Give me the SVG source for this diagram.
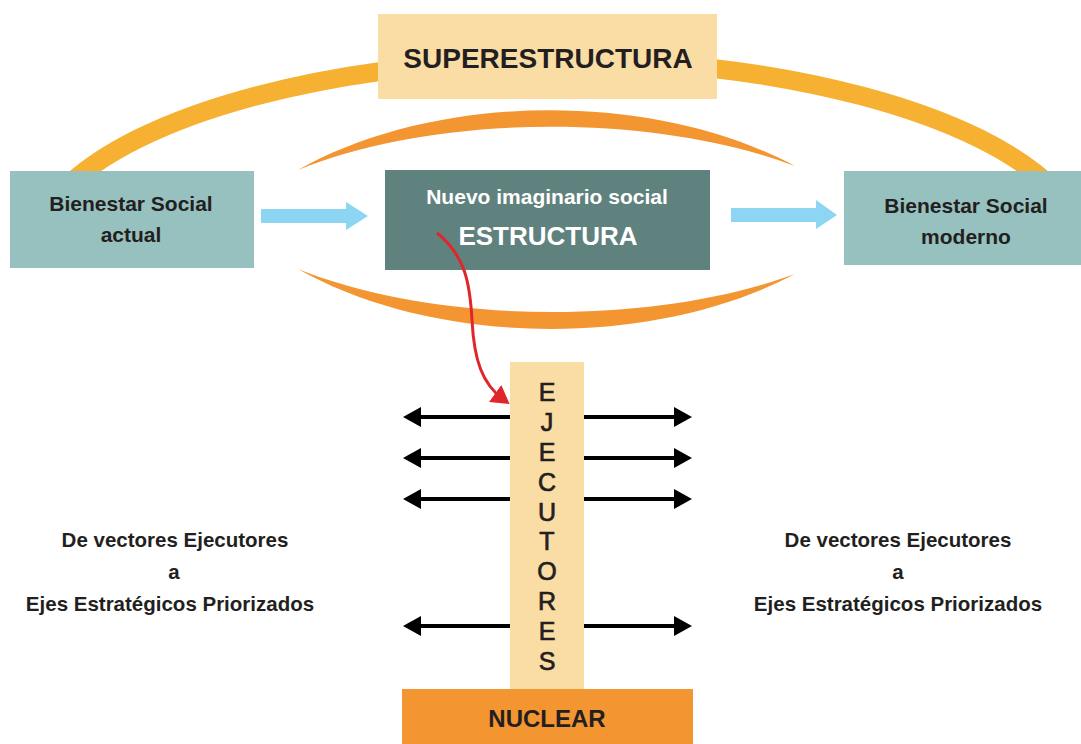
<svg xmlns="http://www.w3.org/2000/svg" width="1081" height="744" viewBox="0 0 1081 744">
  <style>
    .t { font-family: "Liberation Sans", Arial, sans-serif; font-weight: bold; fill: #231F20; text-anchor: middle; }
    .w { fill: #FFFFFF; }
    .col { font-family: "Liberation Sans", Arial, sans-serif; font-weight: normal; font-size: 25px; fill: #231F20; stroke: #231F20; stroke-width: 0.7px; text-anchor: middle; }
    .teal { fill: #96C1BF; }
    .sand { fill: #FADCA5; }
    .orange { fill: #F39530; }
    .blue { fill: #8CD5F3; }
    .blk { stroke: #000000; stroke-width: 4; fill: none; marker-end: url(#headBlk); }
  </style>
  <defs>
    <marker id="headBlk" markerUnits="userSpaceOnUse" markerWidth="18" markerHeight="20" viewBox="0 0 18 20" refX="11" refY="10" orient="auto">
      <path d="M0,0 L18,10 L0,20 Z" fill="#000000"/>
    </marker>
    <marker id="headRed" markerUnits="userSpaceOnUse" markerWidth="18" markerHeight="21" viewBox="0 0 18 21" refX="11" refY="10.5" orient="auto">
      <path d="M0,0 L18,10.5 L0,21 Z" fill="#E0262B"/>
    </marker>
  </defs>

  <rect width="1081" height="744" fill="#FFFFFF"/>

  <!-- big yellow arc -->
  <g id="arc-super">
    <path d="M 63.4 190 A 529 200 0 0 1 1054.6 190" fill="none" stroke="#F6B133" stroke-width="19"/>
  </g>

  <!-- orange crescents -->
  <g id="crescent-top">
    <path class="orange" d="M 298 170 C 438 91, 655 91, 795 166 C 655 113, 438 113, 298 170 Z"/>
  </g>
  <g id="crescent-bottom">
    <path class="orange" d="M 298 269 C 438 348, 655 348, 795 274 C 655 325.5, 438 325.5, 298 269 Z"/>
  </g>

  <g id="superestructura">
    <rect class="sand" x="378" y="14" width="339" height="85"/>
    <text class="t" x="548" y="68" font-size="28">SUPERESTRUCTURA</text>
  </g>

  <g id="bienestar-actual">
    <rect class="teal" x="10" y="171" width="244" height="97"/>
    <text class="t" x="131" y="211" font-size="21">Bienestar Social</text>
    <text class="t" x="131" y="242" font-size="21">actual</text>
  </g>

  <g id="estructura">
    <rect x="385" y="170" width="325" height="100" fill="#5F827E"/>
    <text class="t w" x="547" y="204" font-size="21">Nuevo imaginario social</text>
    <text class="t w" x="548" y="245" font-size="26">ESTRUCTURA</text>
  </g>

  <g id="bienestar-moderno">
    <rect class="teal" x="844" y="171" width="237" height="94"/>
    <text class="t" x="966" y="213" font-size="21">Bienestar Social</text>
    <text class="t" x="966" y="244" font-size="21">moderno</text>
  </g>

  <g id="ejecutores">
    <rect class="sand" x="510" y="362" width="74" height="327"/>
    <text class="col" x="547" y="401">E</text>
    <text class="col" x="547" y="431">J</text>
    <text class="col" x="547" y="461">E</text>
    <text class="col" x="547" y="491">C</text>
    <text class="col" x="547" y="521">U</text>
    <text class="col" x="547" y="550">T</text>
    <text class="col" x="547" y="580">O</text>
    <text class="col" x="547" y="610">R</text>
    <text class="col" x="547" y="640">E</text>
    <text class="col" x="547" y="670">S</text>
  </g>

  <g id="nuclear">
    <rect class="orange" x="402" y="689" width="291" height="55"/>
    <text class="t" x="547" y="727" font-size="24">NUCLEAR</text>
  </g>

  <g id="label-left">
    <text class="t" x="175" y="547" font-size="20.5">De vectores Ejecutores</text>
    <text class="t" x="174" y="579" font-size="20.5">a</text>
    <text class="t" x="170" y="611" font-size="20.5">Ejes Estratégicos Priorizados</text>
  </g>

  <g id="label-right">
    <text class="t" x="898" y="547" font-size="20.5">De vectores Ejecutores</text>
    <text class="t" x="898" y="579" font-size="20.5">a</text>
    <text class="t" x="898" y="611" font-size="20.5">Ejes Estratégicos Priorizados</text>
  </g>

  <g id="connectors">
    <!-- blue flow arrows -->
    <path class="blue" d="M 261 209 L 346 209 L 346 202 L 368 216 L 346 230 L 346 223 L 261 223 Z"/>
    <path class="blue" d="M 731 208 L 816 208 L 816 200 L 837 215 L 816 229 L 816 222 L 731 222 Z"/>
    <!-- black double arrows -->
    <line class="blk" x1="510" y1="417" x2="410" y2="417"/>
    <line class="blk" x1="584" y1="417" x2="685" y2="417"/>
    <line class="blk" x1="510" y1="458" x2="410" y2="458"/>
    <line class="blk" x1="584" y1="458" x2="685" y2="458"/>
    <line class="blk" x1="510" y1="499" x2="410" y2="499"/>
    <line class="blk" x1="584" y1="499" x2="685" y2="499"/>
    <line class="blk" x1="510" y1="626" x2="410" y2="626"/>
    <line class="blk" x1="584" y1="626" x2="685" y2="626"/>
    <!-- red arrow -->
    <path d="M 437 233 C 466 256, 470 285, 472 320 C 474 360, 482 384, 504 400" fill="none" stroke="#E0262B" stroke-width="3" marker-end="url(#headRed)"/>
  </g>
</svg>
